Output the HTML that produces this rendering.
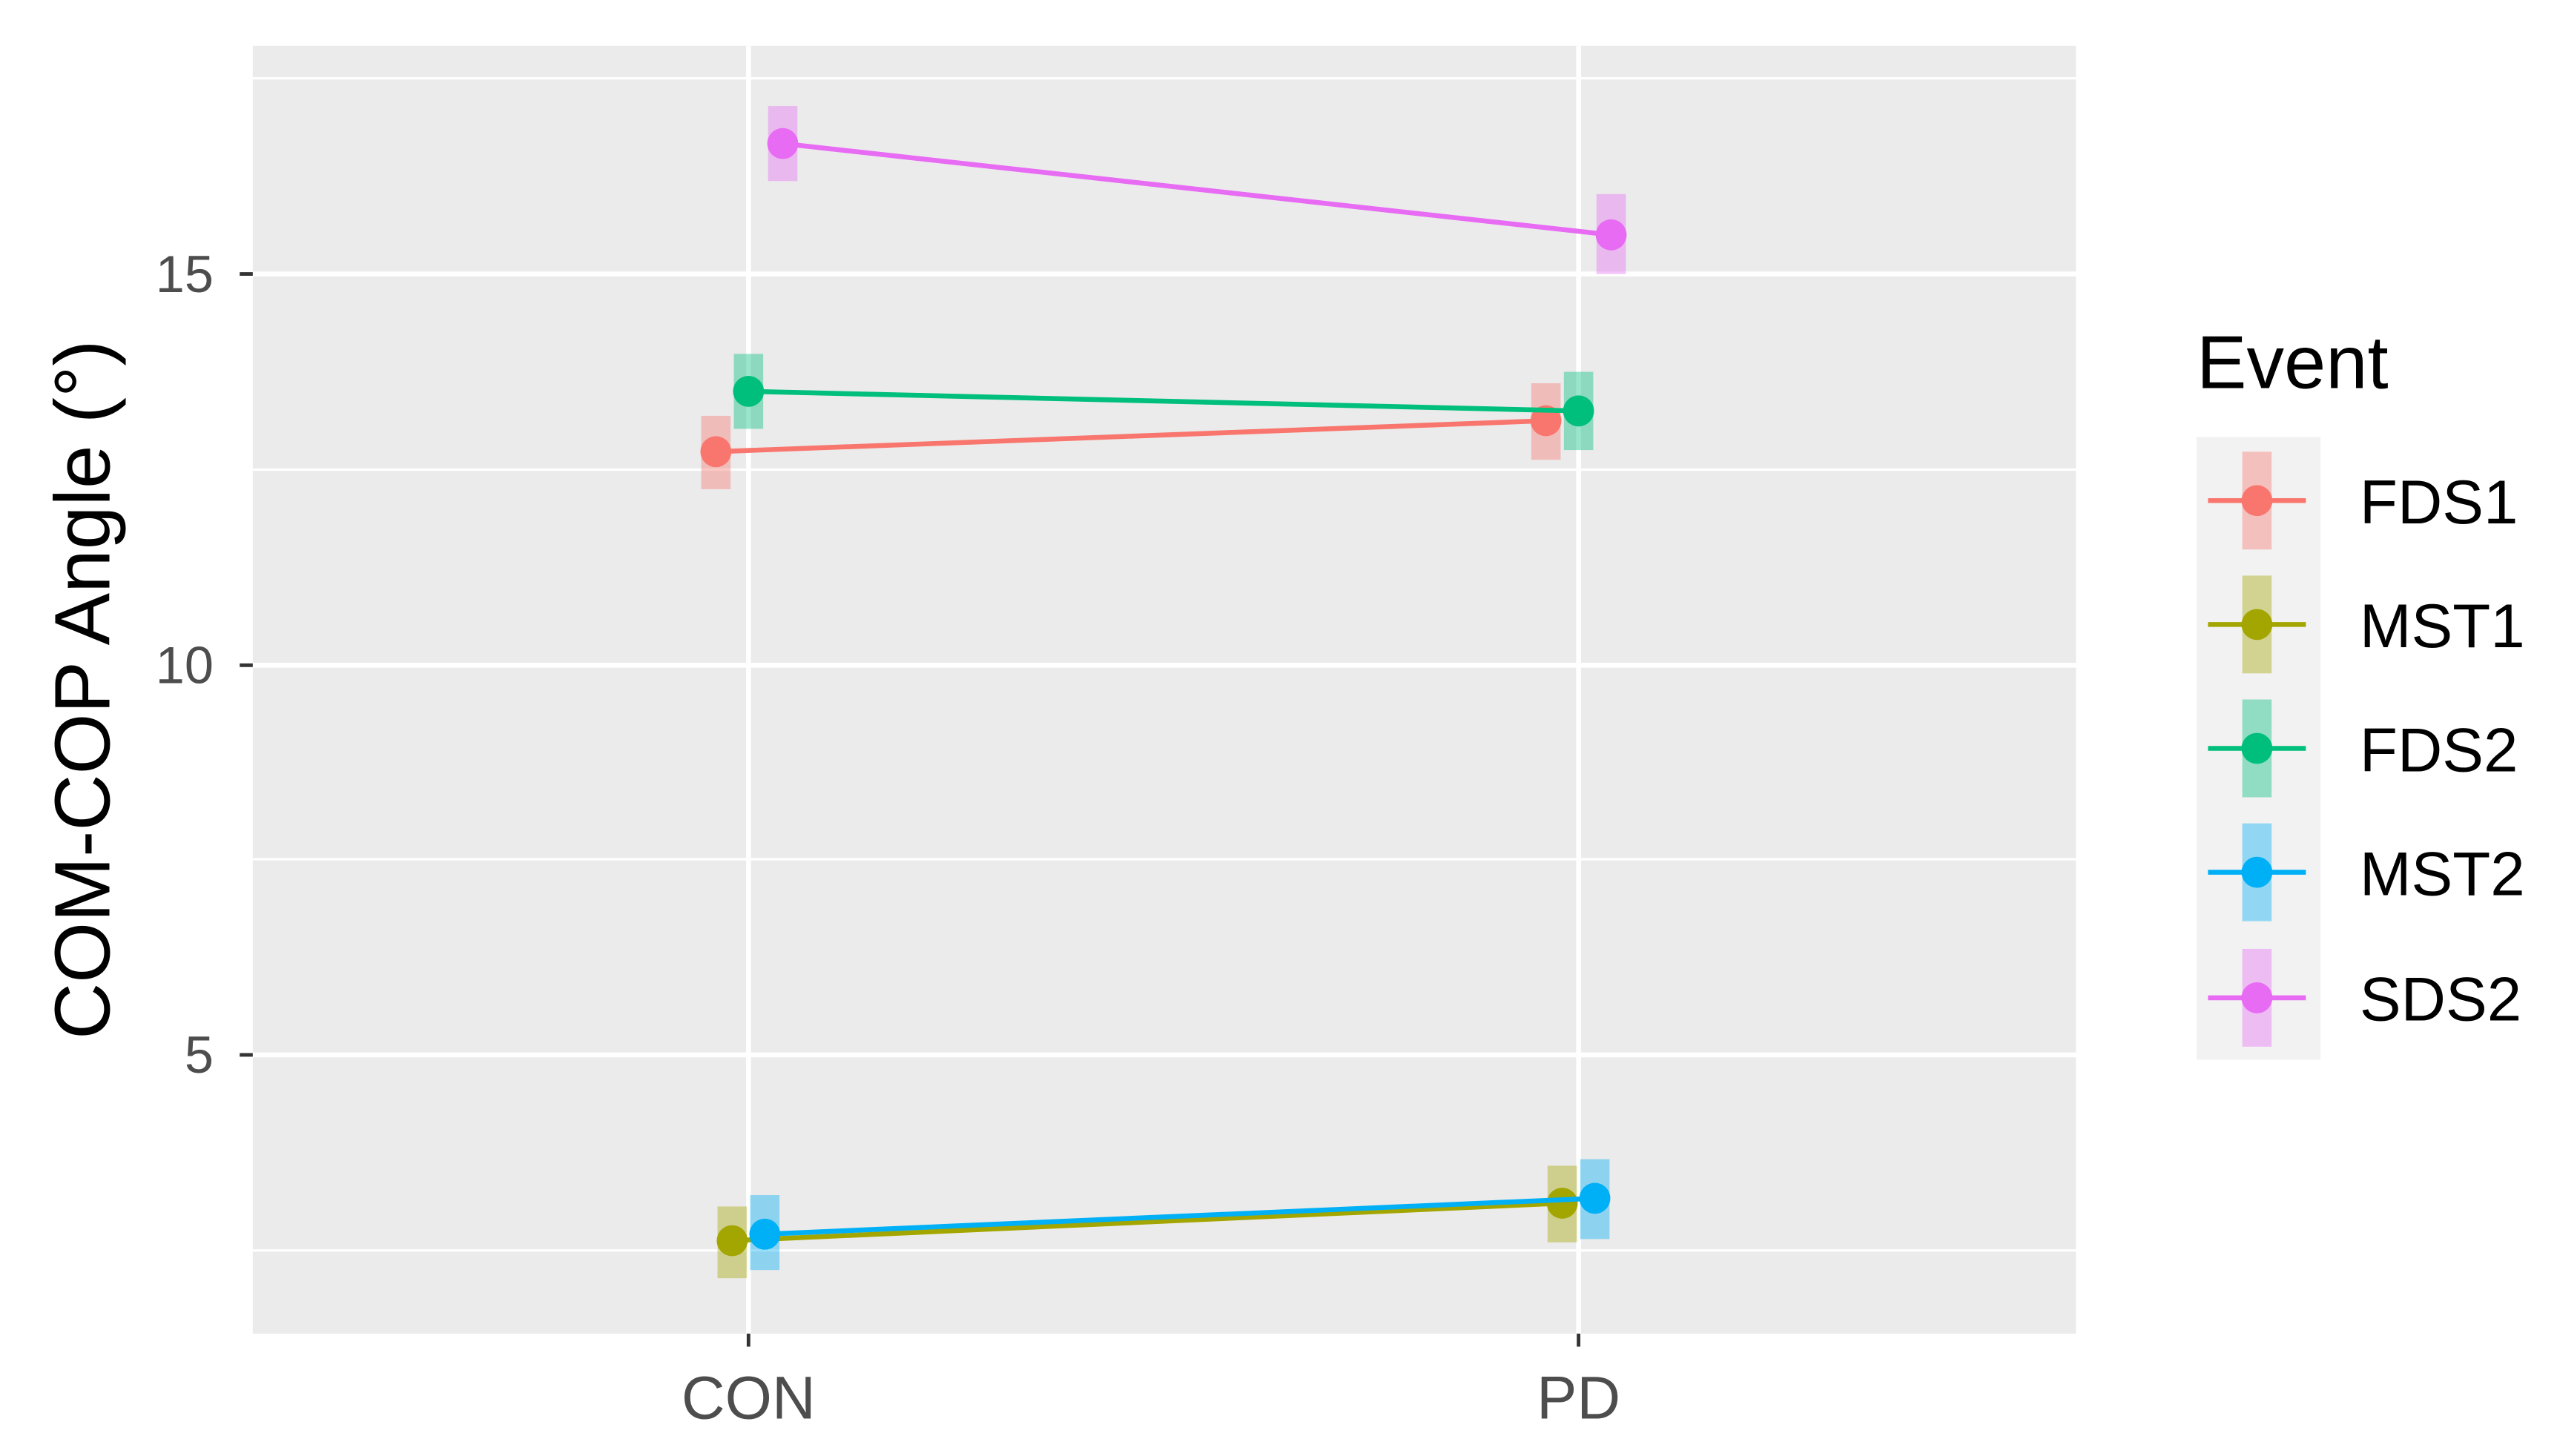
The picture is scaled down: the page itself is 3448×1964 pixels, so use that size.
<!DOCTYPE html>
<html><head><style>html,body{margin:0;padding:0;background:#fff}svg{display:block}</style></head>
<body>
<svg width="3448" height="1964" viewBox="0 0 1568 893" xmlns="http://www.w3.org/2000/svg" font-family="Liberation Sans, sans-serif">
<rect x="0" y="0" width="1568" height="893" fill="#fff"/>
<rect x="155" y="28" width="1118" height="790" fill="#ebebeb"/>
<g stroke="#fff" stroke-width="1.5">
<line x1="155" x2="1273" y1="48" y2="48"/><line x1="155" x2="1273" y1="288" y2="288"/>
<line x1="155" x2="1273" y1="527" y2="527"/><line x1="155" x2="1273" y1="767" y2="767"/>
</g>
<g stroke="#fff" stroke-width="3">
<line x1="155" x2="1273" y1="168" y2="168"/><line x1="155" x2="1273" y1="408" y2="408"/>
<line x1="155" x2="1273" y1="647" y2="647"/>
<line x1="459" x2="459" y1="28" y2="818"/><line x1="968" x2="968" y1="28" y2="818"/>
</g>
<g stroke="#333" stroke-width="2.2">
<line x1="147" x2="155" y1="168" y2="168"/><line x1="147" x2="155" y1="408" y2="408"/><line x1="147" x2="155" y1="647" y2="647"/>
<line x1="459" x2="459" y1="818" y2="826"/><line x1="968" x2="968" y1="818" y2="826"/>
</g>
<g fill="#4d4d4d" font-size="32" text-anchor="end">
<text x="131" y="179">15</text><text x="131" y="419">10</text><text x="131" y="658">5</text>
</g>
<g fill="#4d4d4d" font-size="37" text-anchor="middle">
<text x="459" y="870">CON</text><text x="968" y="870">PD</text>
</g>
<text transform="translate(67,423) rotate(-90)" font-size="48" text-anchor="middle" fill="#000">COM-COP Angle (°)</text>

<g fill="#F8766D" stroke="#F8766D">
<rect x="430" y="255" width="18" height="45" fill-opacity="0.4" stroke="none"/>
<rect x="939" y="235" width="18" height="47" fill-opacity="0.4" stroke="none"/>
<line x1="439" y1="277" x2="948" y2="258" stroke-width="3"/>
<circle cx="439" cy="277" r="9.5" stroke="none"/><circle cx="948" cy="258" r="9.5" stroke="none"/>
</g>
<g fill="#A3A500" stroke="#A3A500">
<rect x="440" y="740" width="18" height="44" fill-opacity="0.4" stroke="none"/>
<rect x="949" y="715" width="18" height="47" fill-opacity="0.4" stroke="none"/>
<line x1="449" y1="761" x2="958" y2="738" stroke-width="3"/>
<circle cx="449" cy="761" r="9.5" stroke="none"/><circle cx="958" cy="738" r="9.5" stroke="none"/>
</g>
<g fill="#00BF7D" stroke="#00BF7D">
<rect x="450" y="217" width="18" height="46" fill-opacity="0.4" stroke="none"/>
<rect x="959" y="228" width="18" height="48" fill-opacity="0.4" stroke="none"/>
<line x1="459" y1="240" x2="968" y2="252" stroke-width="3"/>
<circle cx="459" cy="240" r="9.5" stroke="none"/><circle cx="968" cy="252" r="9.5" stroke="none"/>
</g>
<g fill="#00B0F6" stroke="#00B0F6">
<rect x="460" y="733" width="18" height="46" fill-opacity="0.4" stroke="none"/>
<rect x="969" y="711" width="18" height="49" fill-opacity="0.4" stroke="none"/>
<line x1="469" y1="757" x2="978" y2="735" stroke-width="3"/>
<circle cx="469" cy="757" r="9.5" stroke="none"/><circle cx="978" cy="735" r="9.5" stroke="none"/>
</g>
<g fill="#E76BF3" stroke="#E76BF3">
<rect x="471" y="65" width="18" height="46" fill-opacity="0.4" stroke="none"/>
<rect x="979" y="119" width="18" height="49" fill-opacity="0.4" stroke="none"/>
<line x1="480" y1="88" x2="988" y2="144" stroke-width="3"/>
<circle cx="480" cy="88" r="9.5" stroke="none"/><circle cx="988" cy="144" r="9.5" stroke="none"/>
</g>

<text x="1347" y="238" font-size="46" fill="#000">Event</text>
<rect x="1347" y="268" width="76" height="382" fill="#f2f2f2"/>
<g>
<rect x="1375" y="277" width="18" height="60" fill="#F8766D" fill-opacity="0.4"/>
<line x1="1354" x2="1414" y1="307" y2="307" stroke="#F8766D" stroke-width="3"/><circle cx="1384" cy="307" r="9.5" fill="#F8766D"/>
<rect x="1375" y="353" width="18" height="60" fill="#A3A500" fill-opacity="0.4"/>
<line x1="1354" x2="1414" y1="383" y2="383" stroke="#A3A500" stroke-width="3"/><circle cx="1384" cy="383" r="9.5" fill="#A3A500"/>
<rect x="1375" y="429" width="18" height="60" fill="#00BF7D" fill-opacity="0.4"/>
<line x1="1354" x2="1414" y1="459" y2="459" stroke="#00BF7D" stroke-width="3"/><circle cx="1384" cy="459" r="9.5" fill="#00BF7D"/>
<rect x="1375" y="505" width="18" height="60" fill="#00B0F6" fill-opacity="0.4"/>
<line x1="1354" x2="1414" y1="535" y2="535" stroke="#00B0F6" stroke-width="3"/><circle cx="1384" cy="535" r="9.5" fill="#00B0F6"/>
<rect x="1375" y="582" width="18" height="60" fill="#E76BF3" fill-opacity="0.4"/>
<line x1="1354" x2="1414" y1="612" y2="612" stroke="#E76BF3" stroke-width="3"/><circle cx="1384" cy="612" r="9.5" fill="#E76BF3"/>
</g>
<g font-size="38" fill="#000">
<text x="1447" y="321">FDS1</text><text x="1447" y="397">MST1</text><text x="1447" y="473">FDS2</text>
<text x="1447" y="549">MST2</text><text x="1447" y="626">SDS2</text>
</g>
</svg>
</body></html>
